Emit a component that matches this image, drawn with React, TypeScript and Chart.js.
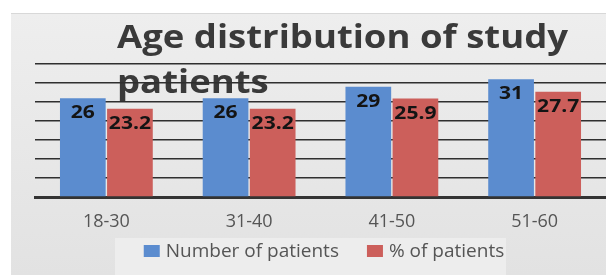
import React, { useEffect, useRef } from "react";
import { Chart, registerables } from "chart.js";

Chart.register(...registerables);

const categories = ["18-30", "31-40", "41-50", "51-60"];
const numberOfPatients = [26, 26, 29, 31];
const percentOfPatients = [23.2, 23.2, 25.9, 27.7];
const seriesLabels = ["Number of patients", "% of patients"];
const seriesColors = ["#5b8ccf", "#cc5f5b"];
const titleLines = ["Age distribution of study", "patients"];
const yMax = 35;
const yStep = 5;

const FONT = "'Open Sans', 'DejaVu Sans', sans-serif";

function drawScaled(ctx: any, text: string, x: number, y: number, sx: number, align: string) {
  ctx.save();
  ctx.translate(x, y);
  ctx.scale(sx, 1);
  ctx.textAlign = align;
  ctx.fillText(text, 0, 0);
  ctx.restore();
}

const backgroundPlugin = {
  id: "slideBackground",
  beforeDraw(chart: any) {
    const { ctx, width, height } = chart;
    ctx.save();
    ctx.fillStyle = "#ffffff";
    ctx.fillRect(0, 0, width, height);
    const g = ctx.createLinearGradient(0, 13, 0, height);
    g.addColorStop(0, "#eeeeee");
    g.addColorStop(1, "#e2e2e2");
    ctx.fillStyle = g;
    ctx.fillRect(11, 13, width - 11, height - 13);
    ctx.fillStyle = "#d8d8d8";
    ctx.fillRect(11, 13, width - 11, 1);
    ctx.fillStyle = "#ededed";
    ctx.fillRect(115, 238, 391, height - 238);
    // title
    ctx.fillStyle = "#3a3a3a";
    ctx.font = `bold 32px ${FONT}`;
    ctx.textBaseline = "alphabetic";
    const w = ctx.measureText(titleLines[0]).width;
    const sx = 451 / w;
    drawScaled(ctx, titleLines[0], 117, 48, sx, "left");
    drawScaled(ctx, titleLines[1], 117, 93, sx, "left");
    ctx.restore();
  },
};

const dataLabelPlugin = {
  id: "dataLabels",
  afterDatasetsDraw(chart: any) {
    const { ctx } = chart;
    ctx.save();
    ctx.font = `bold 18px ${FONT}`;
    ctx.fillStyle = "#141414";
    ctx.textBaseline = "alphabetic";
    chart.data.datasets.forEach((ds: any, di: number) => {
      const meta = chart.getDatasetMeta(di);
      meta.data.forEach((el: any, i: number) => {
        drawScaled(ctx, String(ds.data[i]), el.x, el.y + 20, 1.17, "center");
      });
    });
    ctx.restore();
  },
};

const legendPlugin = {
  id: "customLegend",
  afterDraw(chart: any) {
    const { ctx } = chart;
    ctx.save();
    ctx.font = `19px ${FONT}`;
    ctx.textBaseline = "alphabetic";
    const boxW = 16;
    const gapBoxText = 6;
    const gapItems = 28;
    const items = chart.data.datasets.map((ds: any) => ({
      label: ds.label,
      color: ds.backgroundColor,
      w: ctx.measureText(ds.label).width,
    }));
    const total =
      items.reduce((s: number, it: any) => s + boxW + gapBoxText + it.w, 0) +
      gapItems * (items.length - 1);
    let x = 324 - total / 2;
    items.forEach((it: any) => {
      ctx.fillStyle = it.color;
      ctx.fillRect(x, 245, boxW, 12);
      ctx.fillStyle = "#555555";
      ctx.textAlign = "left";
      ctx.fillText(it.label, x + boxW + gapBoxText, 257);
      x += boxW + gapBoxText + it.w + gapItems;
    });
    ctx.restore();
  },
};

export default function App() {
  const ref = useRef<HTMLCanvasElement | null>(null);
  useEffect(() => {
    if (!ref.current) return;
    const chart = new Chart(ref.current, {
      type: "bar",
      data: {
        labels: categories,
        datasets: [
          {
            label: seriesLabels[0],
            data: numberOfPatients,
            backgroundColor: seriesColors[0],
            categoryPercentage: 0.66,
            barPercentage: 0.97,
          },
          {
            label: seriesLabels[1],
            data: percentOfPatients,
            backgroundColor: seriesColors[1],
            categoryPercentage: 0.66,
            barPercentage: 0.97,
          },
        ],
      },
      options: {
        animation: false,
        responsive: false,
        maintainAspectRatio: false,
        layout: { padding: { left: 35, right: 0, top: 64, bottom: 0 } },
        plugins: {
          title: { display: false },
          tooltip: { enabled: false },
          legend: { display: false },
        },
        scales: {
          x: {
            grid: { display: false, drawTicks: false },
            border: { display: true, color: "#333333", width: 3 },
            ticks: {
              color: "#555555",
              font: { family: FONT, size: 18 },
              padding: 14,
            },
            afterFit: (s: any) => {
              s.height = 78;
            },
          },
          y: {
            min: 0,
            max: yMax,
            ticks: { display: false, stepSize: yStep },
            grid: { color: "#2f2f2f", lineWidth: 1.6, drawTicks: false },
            border: { display: false },
            afterFit: (s: any) => {
              s.width = 0;
            },
          },
        },
      },
      plugins: [backgroundPlugin, dataLabelPlugin, legendPlugin],
    });
    return () => chart.destroy();
  }, []);
  return (
    <div style={{ position: "fixed", left: 0, top: 0, width: 606, height: 275 }}>
      <canvas ref={ref} width={606} height={275} style={{ display: "block" }} />
    </div>
  );
}
